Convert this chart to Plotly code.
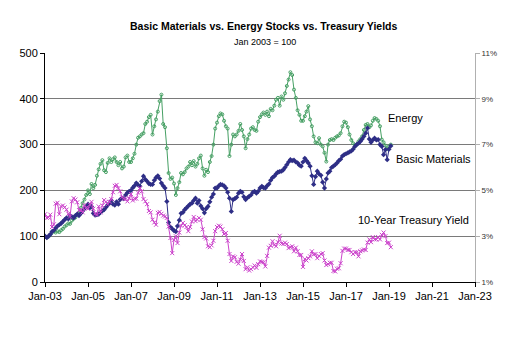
import pandas as pd
import plotly.graph_objects as go

# Monthly observations, Jan 2003 through Feb 2019
months = pd.date_range("2003-01-01", periods=194, freq="MS")

# Energy stocks, indexed Jan 2003 = 100
energy = [
    100, 97, 99, 103, 108, 111, 108, 111, 109, 113, 116, 121,      # 2003
    124, 128, 127, 134, 138, 141, 148, 152, 162, 172, 180, 190,    # 2004
    200, 192, 214, 205, 212, 232, 246, 258, 266, 244, 240, 260,    # 2005
    270, 262, 268, 272, 262, 255, 262, 248, 252, 272, 276, 262,    # 2006
    262, 270, 280, 300, 315, 318, 322, 325, 345, 350, 360, 365,    # 2007
    322, 340, 355, 372, 395, 409, 345, 338, 292, 238, 225, 228,    # 2008
    215, 190, 205, 218, 238, 235, 240, 248, 252, 262, 255, 264,    # 2009
    252, 258, 270, 276, 248, 232, 245, 240, 262, 275, 300, 335,    # 2010
    348, 362, 368, 366, 352, 340, 335, 275, 300, 322, 318, 322,    # 2011
    330, 345, 332, 318, 292, 312, 322, 335, 338, 332, 330, 350,    # 2012
    360, 366, 370, 365, 372, 362, 378, 375, 385, 398, 402, 385,    # 2013
    405, 398, 412, 428, 442, 458, 452, 420, 402, 375, 365, 352,    # 2014
    352, 362, 372, 384, 355, 340, 318, 305, 303, 314, 300, 296,    # 2015
    282, 263, 300, 310, 312, 310, 315, 318, 320, 325, 340, 350,    # 2016
    348, 338, 322, 310, 303, 296, 300, 307, 312, 318, 332, 343,    # 2017
    345, 338, 342, 352, 358, 356, 352, 340, 311, 305, 298, 290,    # 2018
    296, 300,                                                      # 2019
]

# Basic materials stocks, indexed Jan 2003 = 100
basic_materials = [
    100, 97, 100, 104, 110, 113, 118, 122, 125, 128, 132, 136,     # 2003
    140, 138, 145, 142, 140, 145, 148, 145, 150, 155, 160, 165,    # 2004
    170, 162, 165, 150, 146, 147, 148, 152, 155, 158, 163, 168,    # 2005
    172, 178, 170, 168, 175, 170, 180, 183, 182, 190, 195, 198,    # 2006
    200, 206, 210, 216, 212, 209, 220, 231, 224, 220, 215, 213,    # 2007
    213, 222, 228, 232, 226, 216, 210, 205, 176, 130, 120, 116,    # 2008
    112, 110, 122, 135, 150, 152, 158, 162, 166, 170, 172, 178,    # 2009
    183, 172, 178, 166, 160, 151, 160, 165, 175, 185, 192, 205,    # 2010
    205, 210, 213, 212, 210, 205, 196, 183, 154, 180, 182, 185,    # 2011
    194, 198, 196, 186, 180, 184, 187, 190, 196, 198, 194, 198,    # 2012
    205, 209, 206, 205, 210, 214, 222, 228, 231, 236, 240, 241,    # 2013
    242, 245, 250, 256, 262, 267, 265, 266, 262, 260, 255, 253,    # 2014
    262, 270, 265, 260, 253, 232, 213, 230, 242, 236, 233, 218,    # 2015
    205, 225, 238, 242, 250, 253, 256, 260, 265, 268, 275, 278,    # 2016
    280, 282, 284, 286, 290, 296, 300, 303, 307, 312, 318, 325,    # 2017
    336, 312, 305, 310, 314, 310, 311, 300, 296, 278, 289, 267,    # 2018
    290, 297,                                                      # 2019
]

# 10-year Treasury yield, percent
treasury_yield = [
    3.96, 3.80, 3.82, 3.94, 3.40, 3.52, 4.42, 4.46, 3.96, 4.30, 4.34, 4.26,  # 2003
    4.16, 3.98, 3.86, 4.52, 4.66, 4.60, 4.48, 4.14, 4.14, 4.04, 4.36, 4.24,  # 2004
    4.20, 4.38, 4.50, 4.20, 3.98, 3.94, 4.30, 4.04, 4.34, 4.58, 4.50, 4.40,  # 2005
    4.50, 4.62, 4.92, 5.20, 5.24, 5.10, 4.96, 4.70, 4.64, 4.62, 4.52, 4.66,  # 2006
    4.84, 4.56, 4.64, 4.64, 4.90, 5.10, 4.96, 4.62, 4.52, 4.40, 4.10, 4.04,  # 2007
    3.72, 3.60, 3.50, 4.02, 4.06, 3.98, 3.90, 3.86, 3.80, 3.42, 2.92, 2.26,  # 2008
    2.84, 3.00, 2.70, 3.16, 3.46, 3.58, 3.48, 3.40, 3.22, 3.40, 3.64, 3.84,  # 2009
    3.66, 3.72, 3.80, 3.72, 3.30, 2.96, 2.90, 2.56, 2.52, 2.60, 2.80, 3.22,  # 2010
    3.40, 3.46, 3.42, 3.30, 3.10, 3.14, 2.80, 2.22, 1.92, 2.12, 2.08, 1.88,  # 2011
    1.80, 1.98, 2.22, 1.92, 1.56, 1.64, 1.50, 1.56, 1.64, 1.72, 1.62, 1.78,  # 2012
    1.90, 1.88, 1.86, 1.68, 2.14, 2.50, 2.58, 2.78, 2.62, 2.56, 2.74, 3.02,  # 2013
    2.68, 2.66, 2.72, 2.66, 2.48, 2.52, 2.56, 2.34, 2.50, 2.34, 2.18, 2.18,  # 2014
    1.66, 2.00, 1.94, 2.04, 2.12, 2.34, 2.20, 2.22, 2.04, 2.14, 2.22, 2.26,  # 2015
    1.94, 1.74, 1.78, 1.84, 1.84, 1.48, 1.46, 1.58, 1.60, 1.82, 2.36, 2.46,  # 2016
    2.46, 2.40, 2.40, 2.30, 2.22, 2.30, 2.30, 2.12, 2.34, 2.38, 2.42, 2.40,  # 2017
    2.72, 2.86, 2.74, 2.96, 2.86, 2.86, 2.96, 2.86, 3.06, 3.16, 3.00, 2.70,  # 2018
    2.72, 2.52,                                                              # 2019
]

x_ticks = pd.date_range("2003-01-01", "2023-01-01", freq="24MS")
left_ticks = [0, 100, 200, 300, 400, 500]
right_ticks = [1, 3, 5, 7, 9, 11]
right_tick_text = [f"{v}%" for v in right_ticks]

FONT = "Liberation Sans, Arial, sans-serif"
GREEN = "#46a064"
NAVY = "#2e2e86"
MAGENTA = "#cc44cc"

fig = go.Figure()

fig.add_trace(go.Scatter(
    x=months, y=energy, name="Energy", mode="lines+markers",
    line=dict(color=GREEN, width=1),
    marker=dict(symbol="circle-open", size=3, color=GREEN, line=dict(width=1, color=GREEN)),
))
fig.add_trace(go.Scatter(
    x=months, y=basic_materials, name="Basic Materials", mode="lines+markers",
    line=dict(color=NAVY, width=1),
    marker=dict(symbol="diamond", size=4, color=NAVY),
))
fig.add_trace(go.Scatter(
    x=months, y=treasury_yield, name="10-Year Treasury Yield", mode="lines+markers",
    yaxis="y2",
    line=dict(color=MAGENTA, width=1),
    marker=dict(symbol="x-thin-open", size=4, color=MAGENTA, line=dict(width=1, color=MAGENTA)),
))

# Series labels placed beside the lines
labels = [
    ("Energy", 386, 118),
    ("Basic Materials", 394, 159),
    ("10-Year Treasury Yield", 356, 220),
]
L, R, T, B = 45, 475, 53.3, 282.3
for text, px, py in labels:
    fig.add_annotation(
        text=text, xref="paper", yref="paper",
        x=(px - L) / (R - L), y=(B - py) / (B - T),
        xanchor="left", yanchor="middle", showarrow=False,
        font=dict(family=FONT, size=11, color="#000000"),
    )

fig.add_annotation(
    text="<b>Basic Materials vs. Energy Stocks vs. Treasury Yields</b>",
    xref="paper", yref="paper", x=(263.5 - L) / (R - L), y=(B - 26.5) / (B - T),
    xanchor="center", yanchor="middle", showarrow=False,
    font=dict(family=FONT, size=10.5, color="#000000"),
)
fig.add_annotation(
    text="Jan 2003 = 100",
    xref="paper", yref="paper", x=(265 - L) / (R - L), y=(B - 42) / (B - T),
    xanchor="center", yanchor="middle", showarrow=False,
    font=dict(family=FONT, size=9, color="#000000"),
)

fig.update_layout(
    width=510, height=347,
    margin=dict(l=L, r=510 - R, t=T, b=347 - B, pad=0),
    paper_bgcolor="white", plot_bgcolor="white",
    showlegend=False,
    font=dict(family=FONT, color="#000000"),
    xaxis=dict(
        type="date", range=["2003-01-01", "2023-01-01"],
        tickvals=list(x_ticks), tickformat="%b-%y",
        showgrid=False, showline=True, linecolor="#000000", linewidth=1,
        ticks="outside", ticklen=4, tickcolor="#000000",
        tickfont=dict(family=FONT, size=11), zeroline=False,
    ),
    yaxis=dict(
        range=[0, 500], tickvals=left_ticks,
        showgrid=True, gridcolor="#7a7a7a", gridwidth=1,
        showline=True, linecolor="#000000", linewidth=1,
        ticks="outside", ticklen=4, tickcolor="#000000",
        tickfont=dict(family=FONT, size=11), zeroline=False,
    ),
    yaxis2=dict(
        range=[1, 11], tickvals=right_ticks, ticktext=right_tick_text,
        overlaying="y", side="right", showgrid=False,
        showline=True, linecolor="#b0b0b0", linewidth=1,
        ticks="outside", ticklen=4, tickcolor="#b0b0b0",
        tickfont=dict(family=FONT, size=8, color="#333333"), zeroline=False,
    ),
)

fig.write_html("out.html")
